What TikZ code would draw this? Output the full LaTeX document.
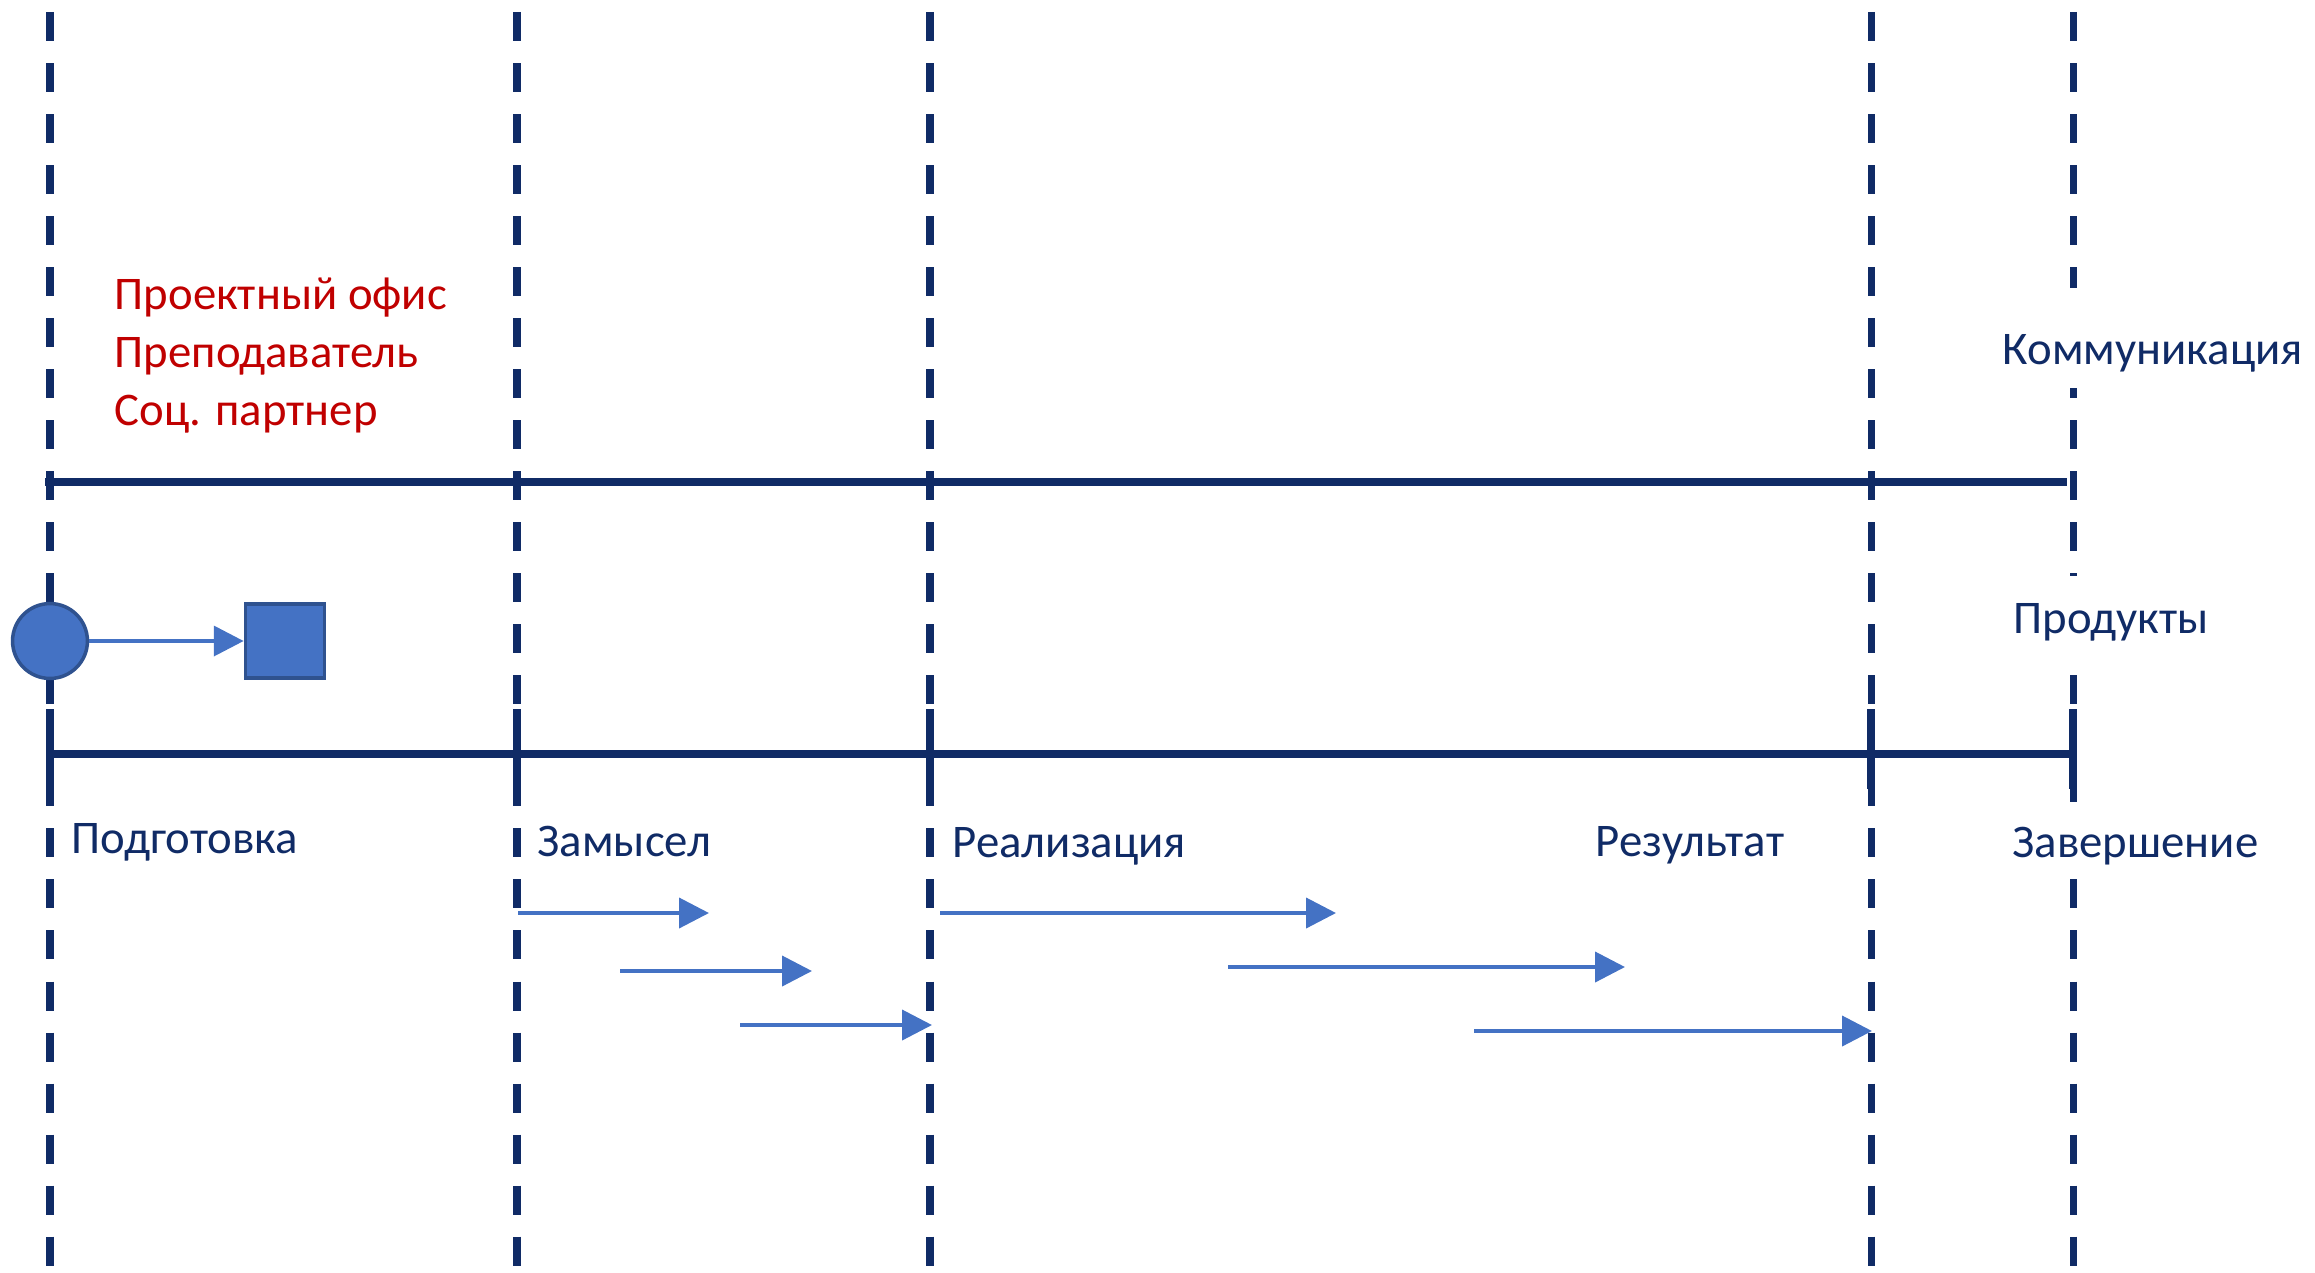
\documentclass[tikz,border=0pt]{standalone}
\usepackage{fontspec}
\setmainfont{Carlito}
\usetikzlibrary{arrows.meta,positioning}
\definecolor{navy}{RGB}{16,43,102}
\definecolor{darkred}{RGB}{192,0,0}
\definecolor{accent}{RGB}{68,114,196}
\definecolor{accentdark}{RGB}{47,82,143}
\tikzset{%
  phase/.style={draw=navy, line width=2pt, dash pattern=on 8.25pt off 6.26pt, dash phase=11.1pt},
  axis/.style={draw=navy, line width=2.28pt},
  flow/.style={draw=accent, line width=1.14pt, -{Triangle[length=8.5pt,width=8.5pt]}},
  stage/.style={text=navy, anchor=base west, inner sep=0pt, font=\fontsize{13.3}{16.4}\selectfont},
  actor/.style={stage, text=darkred, align=left},
  track/.style={stage, fill=white},
  event/.style={circle, fill=accent, draw=accentdark, line width=1pt, minimum size=21.3pt, inner sep=0pt},
  product/.style={rectangle, fill=accent, draw=accentdark, line width=1pt, minimum width=22.5pt, minimum height=21pt, inner sep=0pt},
}
\newcommand{\taskarrow}[4]{%
  \coordinate (#1-s) at (#2,#4);
  \coordinate (#1-e) at (#3,#4);
  \path [flow] (#1-s) -- (#1-e);}

\begin{document}
\begin{tikzpicture}[x=0.01cm, y=-0.01cm]
  \useasboundingbox (0,0) rectangle (2315,1272);

  % phase borders
  \foreach \nm/\xx in {prep/50, idea/517, real/930, res/1871, fin/2073} {
    \coordinate (\nm-t) at (\xx,0);
    \coordinate (\nm-b) at (\xx,1272);
    \path [phase] (\nm-t) -- (\nm-b);
  }

  % communication line
  \coordinate (comm-l) at (45,482);
  \coordinate (comm-r) at (2067,482);
  \path [axis] (comm-l) -- (comm-r);

  % products line with ticks
  \coordinate (prod-l) at (50,754);
  \coordinate (prod-r) at (2073,754);
  \path [axis] (prod-l) -- (prod-r);
  \foreach \nm/\xx in {prep/50, idea/517, real/930, res/1871, fin/2073} {
    \coordinate (\nm-up) at (\xx,709);
    \coordinate (\nm-dn) at (\xx,789);
    \path [axis] (\nm-up) -- (\nm-dn);
  }

  \node (actors) [actor] at (114,425) {Проектный офис\\Преподаватель\\Соц. партнер};
  \node (comm) [track, text height=21.6pt, text depth=6.8pt] at (2002,364) {Коммуникация};
  \node (prod) [track, text height=16.2pt, text depth=6.5pt] at (2013,633) {Продукты};

  \node (start) [event] at (50,641) {};
  \node (out) [product] at (285,641) {};
  \path [flow] (start) -- (out.west);

  \node (s1) [stage] at (71,853) {Подготовка};
  \node (s2) [stage] at (537,856) {Замысел};
  \node (s3) [stage] at (952,857) {Реализация};
  \node (s4) [stage] at (1595,856) {Результат};
  \node (s5) [track, text height=15.6pt, text depth=5.7pt] at (2012,857) {Завершение};

  \taskarrow{a1}{518}{709}{913}
  \taskarrow{a2}{620}{812}{971}
  \taskarrow{a3}{740}{932}{1025}
  \taskarrow{a4}{940}{1336}{913}
  \taskarrow{a5}{1228}{1625}{967}
  \taskarrow{a6}{1474}{1872}{1031}
\end{tikzpicture}
\end{document}
